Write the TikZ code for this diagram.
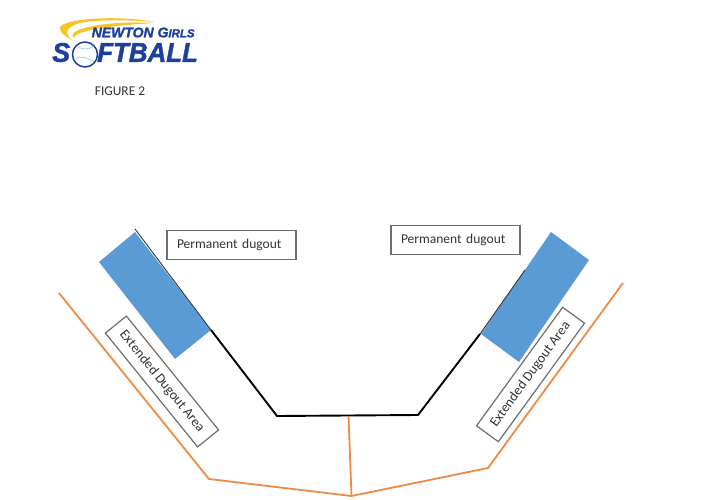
\documentclass[tikz,border=0pt]{standalone}
\usepackage{fontspec}
\setmainfont{Carlito}
\newfontfamily\logofont[BoldItalicFeatures={FakeBold=1.6}]{Liberation Sans}
\definecolor{dugblue}{HTML}{5B9BD5}
\definecolor{fenceor}{HTML}{ED8B45}
\definecolor{logoblue}{HTML}{1F3F9F}
\definecolor{logoyel}{HTML}{F7C325}
\definecolor{seam}{HTML}{7FC4E8}
\definecolor{boxgr}{HTML}{6E6E6E}
\definecolor{txtc}{HTML}{333333}
\tikzset{
  fence/.style={draw=fenceor,line width=1.8pt,line join=round},
  wall/.style={draw=black,line width=1.9pt,line join=round},
  thinwall/.style={draw=black!80,line width=0.9pt},
  dugout/.style={fill=dugblue,draw=none},
  lab/.style={draw=boxgr,line width=1.2pt,fill=white,text=txtc,font=\fontsize{13.5}{15}\selectfont,inner sep=0pt,minimum height=28.5pt,minimum width=129pt},
  extlab/.style={lab,font=\fontsize{13.8}{15}\selectfont,minimum height=27pt,minimum width=146.5pt},
  logotxt/.style={text=logoblue,inner sep=0pt,anchor=west}
}
\begin{document}
\begin{tikzpicture}[x=1pt,y=-1pt]
\useasboundingbox (0,0) rectangle (726,500);
% logo
\fill[logoyel] (155,22) .. controls (110,14) and (60,20) .. (60,28) .. controls (60,33) and (66,37) .. (72,40) .. controls (64,33) and (66,27) .. (80,23) .. controls (100,19) and (130,20) .. (155,22) -- cycle;
\fill[logoyel] (155,23) .. controls (120,21) and (85,25) .. (75,32) .. controls (72,34) and (72,36) .. (74,38) .. controls (74,32) and (100,26) .. (155,23) -- cycle;
\node[logotxt,font={\logofont\bfseries\itshape\fontsize{14}{14}\selectfont}] (logotop) at (91.5,32.5) {NEWTON G\fontsize{11.5}{14}\selectfont IRLS};
\node[logotxt,font={\logofont\bfseries\itshape\fontsize{27}{27}\selectfont}] (logos) at (52,52.5) {S};
\node[logotxt,font={\logofont\bfseries\itshape\fontsize{27}{27}\selectfont},xscale=0.96] (logof) at (97,52.5) {FTBALL};
\node[circle,draw=logoblue,line width=1.5pt,fill=white,minimum size=25pt,inner sep=0pt] (ball) at (85,54.5) {};
\draw[seam,line width=1pt,dash pattern=on 1pt off 0.8pt] (77,46) .. controls (82,50) and (88,50) .. (94,46);
\draw[seam,line width=1pt,dash pattern=on 1pt off 0.8pt] (76,58) .. controls (82,56) and (89,58) .. (94,62);
\node[text=txtc,font=\fontsize{13.4}{15}\selectfont,inner sep=0pt] (figlabel) at (120,91) {FIGURE 2};
% dugouts
\coordinate (la) at (135,232); \coordinate (lb) at (99,262); \coordinate (lc) at (175,359); \coordinate (ld) at (211,330);
\coordinate (ra) at (551,232); \coordinate (rb) at (589,260); \coordinate (rc) at (519,362); \coordinate (rd) at (481,334);
\fill[dugout] (la) -- (lb) -- (lc) -- (ld) -- cycle;
\fill[dugout] (ra) -- (rb) -- (rc) -- (rd) -- cycle;
% walls
\coordinate (w1) at (135,229); \coordinate (w2) at (277,416); \coordinate (w3) at (418,415); \coordinate (w4) at (525,270);
\coordinate (wl) at (211,330); \coordinate (wr) at (480,334);
\draw[wall] (wl) -- (w2) -- (w3) -- (wr);
\draw[thinwall] (w1) -- (wl);
\draw[thinwall] (wr) -- (w4);
% fence
\coordinate (f1) at (59,293); \coordinate (f2) at (209,479); \coordinate (f3) at (351.5,496); \coordinate (f4) at (488,468); \coordinate (f5) at (623,283); \coordinate (f6) at (348.5,416);
\draw[fence] (f1) -- (f2) -- (f3) -- (f4) -- (f5);
\draw[fence] (f6) -- (f3);
% labels
\node[lab,text width=109pt,align=left] (perml) at (231.5,245) {Permanent dugout};
\node[lab,text width=109pt,align=left] (permr) at (455.5,240) {Permanent dugout};
\node[extlab,rotate=-51] (extl) at (162,381.5) {Extended Dugout Area};
\node[extlab,rotate=54] (extr) at (530.5,374.5) {Extended Dugout Area};
\end{tikzpicture}
\end{document}
